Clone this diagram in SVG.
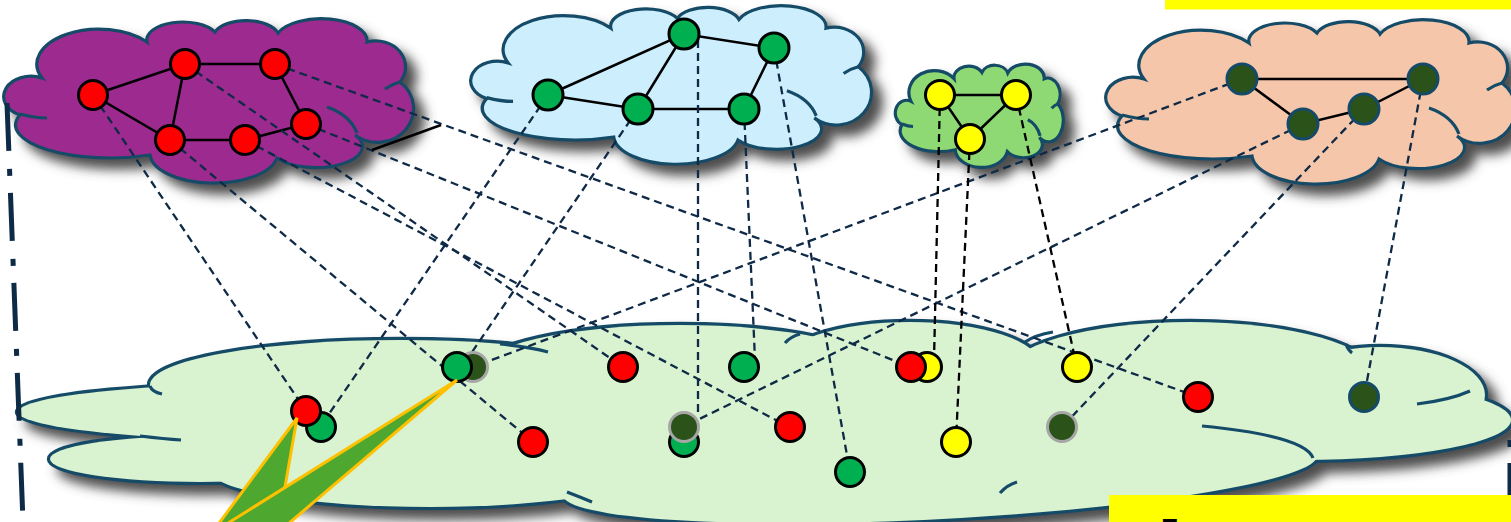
<svg xmlns="http://www.w3.org/2000/svg" width="1511" height="522" viewBox="0 0 1511 522">
<style>
.co{stroke:#144b68;stroke-width:3.2;vector-effect:non-scaling-stroke}
.ci{fill:none;stroke:#144b68;stroke-width:3.2;vector-effect:non-scaling-stroke}
.bs{stroke:#144b68;stroke-width:6.4}
.bi{fill:none;stroke:#144b68;stroke-width:3.2}
.r{fill:#ff0000;stroke:#000;stroke-width:3}
.g{fill:#00b050;stroke:#000;stroke-width:3}
.y{fill:#ffff00;stroke:#000;stroke-width:3}
.dg{fill:#2a5219;stroke:#154a68;stroke-width:3}
.dgg{fill:#2a5219;stroke:#a6a6a6;stroke-width:3}
.e{fill:none;stroke:#000;stroke-width:2.5}
.d{fill:none;stroke:#0f2a47;stroke-width:2.3;stroke-dasharray:8 5}
.dk{fill:none;stroke:#000;stroke-width:2.3;stroke-dasharray:8 5}
</style>
<defs>
<filter id="sh" x="-10%" y="-20%" width="135%" height="170%">
<feDropShadow dx="10" dy="10" stdDeviation="6" flood-color="#4d4d4d" flood-opacity="1"/>
</filter>
<g id="cloud">
<path class="co" d="M42 78 A62 35 0 0 1 147 42 A36 18 0 0 1 215 32 A33 17 0 0 1 278 33 A46 22 0 0 1 367 42 A30 26 0 0 1 400 82 A34 32 0 0 1 355 135 A44 20 0 0 1 277 158 A64 30 0 0 1 150 155 A95 33 0 0 1 20 115 A27 20 0 1 1 42 78 Z"/>
<path class="ci" d="M20 114 Q35 118 47 118 M400 82 Q392 84 385 89 M327 107 Q350 115 357 133"/>
</g>
</defs>

<g id="cloud-purple" filter="url(#sh)"><use href="#cloud" fill="#9c2b8f"/></g>
<g id="cloud-blue" filter="url(#sh)"><use href="#cloud" fill="#cdeefc" transform="matrix(0.978 0 0 0.965 467.07 -12.4)"/></g>
<g id="cloud-small" filter="url(#sh)"><use href="#cloud" fill="#8ed973" transform="matrix(0.41 0 0 0.629 893.77 52.3)"/></g>
<g id="cloud-peach" filter="url(#sh)"><use href="#cloud" fill="#f5c6aa" transform="translate(1102 1)"/></g>

<g id="cloud-bottom">
<g filter="url(#sh)">
<g class="bs" fill="#d9f2d0">
<ellipse cx="330" cy="412" rx="312" ry="30"/>
<ellipse cx="200" cy="459" rx="150" ry="23"/>
<ellipse cx="430" cy="470" rx="220" ry="37"/>
<ellipse cx="400" cy="385" rx="250" ry="45"/>
<ellipse cx="680" cy="370" rx="200" ry="45"/>
<ellipse cx="910" cy="365" rx="130" ry="43"/>
<ellipse cx="1190" cy="375" rx="185" ry="53"/>
<ellipse cx="1380" cy="395" rx="105" ry="48"/>
<ellipse cx="1300" cy="420" rx="211" ry="40"/>
<ellipse cx="940" cy="475" rx="378" ry="44" transform="rotate(-3 940 475)"/>
</g>
<g fill="#d9f2d0">
<ellipse cx="330" cy="412" rx="312" ry="30"/>
<ellipse cx="200" cy="459" rx="150" ry="23"/>
<ellipse cx="430" cy="470" rx="220" ry="37"/>
<ellipse cx="400" cy="385" rx="250" ry="45"/>
<ellipse cx="680" cy="370" rx="200" ry="45"/>
<ellipse cx="910" cy="365" rx="130" ry="43"/>
<ellipse cx="1190" cy="375" rx="185" ry="53"/>
<ellipse cx="1380" cy="395" rx="105" ry="48"/>
<ellipse cx="1300" cy="420" rx="211" ry="40"/>
<ellipse cx="940" cy="475" rx="378" ry="44" transform="rotate(-3 940 475)"/>
<ellipse cx="760" cy="425" rx="600" ry="55"/>
</g>
</g>
<path class="bi" d="M150 386 Q152 392 162 394 M140 436 Q165 439 181 440 M500 344 Q530 347 548 352 M785 343 Q790 337 800 334 M1025 342 Q1035 335 1053 332 M1346 344 Q1348 350 1352 353 M1417 404 Q1450 400 1470 391 M1202 426 Q1305 436 1313 458 M567 492 Q580 497 592 502 M1000 493 Q1007 485 1017 482"/>
</g>

<g id="edges">
<path class="e" d="M93 95 L185 64 L275 64 L306 124 L245 140 L170 140 L93 95 M185 64 L170 140"/>
<path class="e" d="M548 95 L684 34 L774 48 L744 109 L638 109 L548 95 M638 109 L684 34"/>
<path class="e" d="M940 95 L1016 95 L970 139 Z"/>
<path class="e" d="M1242 79 L1423 79 L1364 109 L1303 124 Z"/>
</g>

<g id="connectors">
<path class="d" d="M93 95 L306 411"/>
<path class="d" d="M170 140 L532 441"/>
<path class="d" d="M185 64 L623 367"/>
<path class="d" d="M245 140 L789 427"/>
<path class="d" d="M306 124 L910 367"/>
<path class="d" d="M275 64 L1198 397"/>
<path class="d" d="M548 95 L320 427"/>
<path class="d" d="M638 109 L470 355"/>
<path class="d" d="M698 40 L698 414"/>
<path class="d" d="M744 109 L755 360"/>
<path class="d" d="M774 48 L850 472"/>
<path class="d" d="M1242 79 L473 367"/>
<path class="d" d="M1303 124 L683 427"/>
<path class="d" d="M1364 109 L1062 427"/>
<path class="d" d="M1423 79 L1364 397"/>
<path class="dk" d="M940 95 L934 360"/>
<path class="dk" d="M970 139 L956 441"/>
<path class="dk" d="M1016 95 L1077 367"/>
<path stroke="#000" stroke-width="2.5" d="M372 150 L441 125"/>
</g>

<g id="n-a"><circle class="r" cx="93" cy="95" r="14.5"/></g>
<g id="n-b"><circle class="r" cx="185" cy="64" r="14.5"/></g>
<g id="n-c"><circle class="r" cx="275" cy="64" r="14.5"/></g>
<g id="n-d"><circle class="r" cx="170" cy="140" r="14.5"/></g>
<g id="n-e"><circle class="r" cx="245" cy="140" r="14.5"/></g>
<g id="n-f"><circle class="r" cx="306" cy="124" r="14.5"/></g>

<g id="n-g1"><circle class="g" cx="548" cy="95" r="15"/></g>
<g id="n-g2"><circle class="g" cx="638" cy="109" r="15"/></g>
<g id="n-g3"><circle class="g" cx="684" cy="34" r="15"/></g>
<g id="n-g4"><circle class="g" cx="774" cy="48" r="15"/></g>
<g id="n-g5"><circle class="g" cx="744" cy="109" r="15"/></g>

<g id="n-y1"><circle class="y" cx="940" cy="95" r="14.5"/></g>
<g id="n-y2"><circle class="y" cx="1016" cy="95" r="14.5"/></g>
<g id="n-y3"><circle class="y" cx="970" cy="139" r="14.5"/></g>

<g id="n-p1"><circle class="dg" cx="1242" cy="79" r="15"/></g>
<g id="n-p2"><circle class="dg" cx="1303" cy="124" r="15"/></g>
<g id="n-p3"><circle class="dg" cx="1364" cy="109" r="15"/></g>
<g id="n-p4"><circle class="dg" cx="1423" cy="79" r="15"/></g>

<g id="b-g1"><circle class="g" cx="321" cy="427" r="14.5"/></g>
<g id="b-r1"><circle class="r" cx="306" cy="411" r="14.5"/></g>
<g id="b-dg1"><circle class="dgg" cx="473" cy="367" r="14.5"/></g>
<g id="b-g2"><circle class="g" cx="457" cy="367" r="14.5"/></g>
<g id="b-r2"><circle class="r" cx="533" cy="442" r="14.5"/></g>
<g id="b-r3"><circle class="r" cx="623" cy="367" r="14.5"/></g>
<g id="b-g3"><circle class="g" cx="744" cy="367" r="14.5"/></g>
<g id="b-g4"><circle class="g" cx="684" cy="442" r="14.5"/></g>
<g id="b-dg2"><circle class="dgg" cx="684" cy="427" r="14.5"/></g>
<g id="b-r4"><circle class="r" cx="790" cy="427" r="14.5"/></g>
<g id="b-g5"><circle class="g" cx="850" cy="472" r="14.5"/></g>
<g id="b-y1"><circle class="y" cx="927" cy="367" r="14.5"/></g>
<g id="b-r5"><circle class="r" cx="911" cy="367" r="14.5"/></g>
<g id="b-y3"><circle class="y" cx="956" cy="442" r="14.5"/></g>
<g id="b-y2"><circle class="y" cx="1077" cy="367" r="14.5"/></g>
<g id="b-dg3"><circle class="dgg" cx="1062" cy="427" r="14.5"/></g>
<g id="b-r6"><circle class="r" cx="1198" cy="397" r="14.5"/></g>
<g id="b-dg4"><circle class="dg" cx="1364" cy="397" r="14.5"/></g>

<g id="callout" fill="#4ea72e" stroke="#ffc000" stroke-width="3" stroke-linejoin="miter">
<polygon points="214,530 297,418 277.5,530"/>
<polygon points="217,530 457,380 281,530"/>
</g>

<line x1="7" y1="103" x2="23" y2="522" stroke="#0d2a47" stroke-width="5" stroke-dasharray="48 18 7 17"/>
<line x1="1509.5" y1="440" x2="1509.5" y2="522" stroke="#0d2a47" stroke-width="4" stroke-dasharray="7 16 50 16"/>

<rect x="1165" y="0" width="346" height="9.5" fill="#ffff00"/>
<rect x="1109" y="495" width="402" height="27" fill="#ffff00"/>
<text x="1161" y="538" font-family="Liberation Sans, Arial, sans-serif" font-weight="bold" font-size="28" fill="#000">Z</text>
</svg>
